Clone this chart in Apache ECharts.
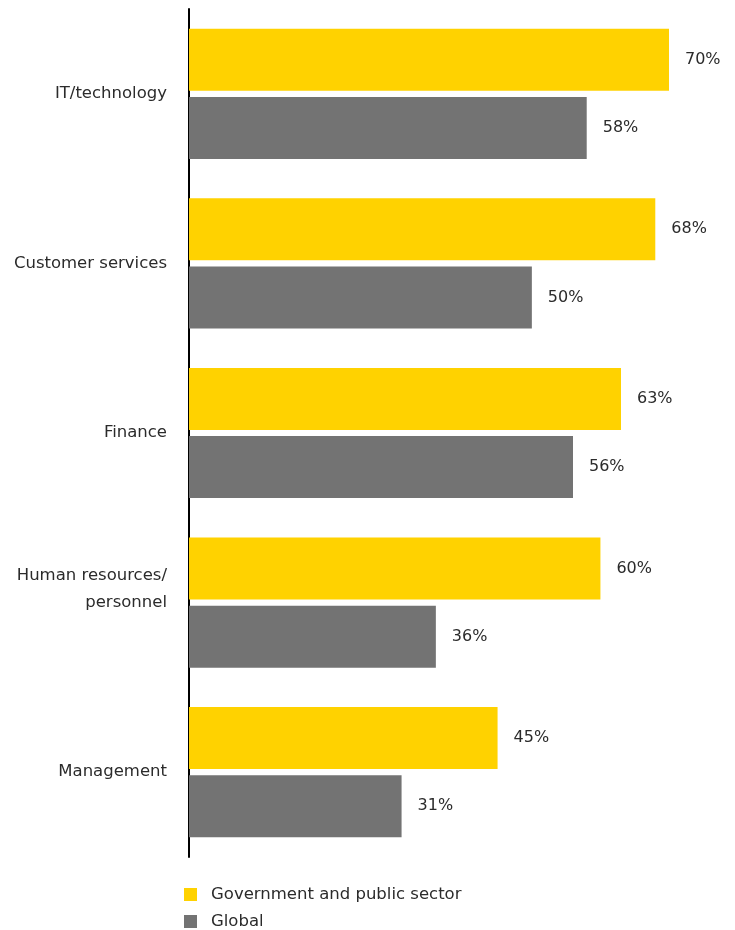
<!DOCTYPE html>
<html>
<head>
<meta charset="utf-8">
<script src="https://cdn.jsdelivr.net/npm/echarts@6/dist/echarts.min.js"></script>
<style>
  html, body { margin: 0; padding: 0; background: #fff; }
  #chart { width: 735px; height: 930px; }
</style>
</head>
<body>
<div id="chart"></div>
<script>
// Functions and the share of organisations reporting them
const categories = ['IT/technology', 'Customer services', 'Finance', 'Human resources/\npersonnel', 'Management'];
const seriesNames = ['Government and public sector', 'Global'];
const govValues = [70, 68, 63, 60, 45];
const globalValues = [58, 50, 56, 36, 31];

const FONT = '"DejaVu Sans", "Noto Sans", sans-serif';
const TEXT = '#2b2b2b';
const YELLOW = '#FFD200';
const GREY = '#737373';

const chart = echarts.init(document.getElementById('chart'));

const valueLabel = {
  show: true,
  position: 'right',
  distance: 16,
  formatter: '{c}%',
  color: TEXT,
  fontSize: 16,
  fontFamily: FONT
};

// one legend block per series, stacked vertically under the plot
const legendBlock = (name, top) => ({
  left: 184, top: top, padding: 0,
  icon: 'rect',
  itemWidth: 13, itemHeight: 13,
  textStyle: { color: TEXT, fontSize: 16.5, fontFamily: FONT, padding: [0, 0, 0, 9] },
  data: [name]
});

chart.setOption({
  animation: false,
  backgroundColor: '#ffffff',
  grid: { left: 189, top: 9, width: 480, height: 848, containLabel: false },
  xAxis: {
    type: 'value', min: 0, max: 70, show: false
  },
  yAxis: {
    type: 'category',
    inverse: true,
    data: categories,
    axisLine: { show: true, lineStyle: { color: '#000', width: 2 } },
    axisTick: { show: false },
    axisLabel: {
      margin: 22, color: TEXT, fontSize: 16.5, fontFamily: FONT,
      lineHeight: 27, align: 'right',
      // two-line names sit a little above the band centre
      formatter: v => v.indexOf('\n') >= 0 ? v + '\n ' : v
    }
  },
  legend: [legendBlock(seriesNames[0], 886), legendBlock(seriesNames[1], 913)],
  series: [
    {
      name: seriesNames[0], type: 'bar', data: govValues,
      barWidth: 62, barGap: '10%',
      itemStyle: { color: YELLOW },
      label: valueLabel
    },
    {
      name: seriesNames[1], type: 'bar', data: globalValues,
      barWidth: 62,
      itemStyle: { color: GREY },
      label: valueLabel
    }
  ]
});
</script>
</body>
</html>
